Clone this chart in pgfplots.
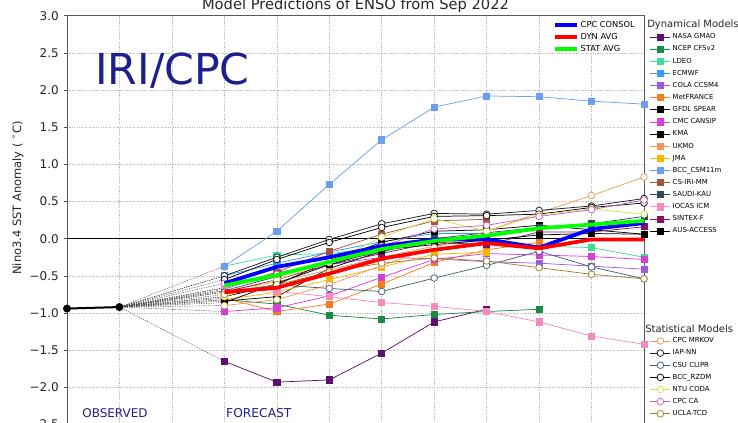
\documentclass[border=0pt]{standalone}
\usepackage{fontspec}
\setmainfont{DejaVu Sans}
\usepackage{pgfplots}
\pgfplotsset{compat=1.18}

\definecolor{cnasa}{HTML}{5C0F6E}
\definecolor{cncep}{HTML}{1B8A45}
\definecolor{cldeo}{HTML}{3DDC97}
\definecolor{cecmwf}{HTML}{2E9FF5}
\definecolor{ccola}{HTML}{9B5DE5}
\definecolor{cmetf}{HTML}{F57C1F}
\definecolor{cgfdl}{HTML}{000000}
\definecolor{ccmc}{HTML}{D53FD5}
\definecolor{ckma}{HTML}{000000}
\definecolor{cukmo}{HTML}{F4935B}
\definecolor{cjma}{HTML}{F5B700}
\definecolor{cbcc}{HTML}{6D9EEB}
\definecolor{ccsiri}{HTML}{A3533E}
\definecolor{csaudi}{HTML}{2F4A5A}
\definecolor{ciocas}{HTML}{F38BBD}
\definecolor{csintex}{HTML}{8C1062}
\definecolor{caus}{HTML}{000000}
\definecolor{cmrkov}{HTML}{EB9B55}
\definecolor{ciap}{HTML}{1A1A1A}
\definecolor{ccsu}{HTML}{43606E}
\definecolor{crzdm}{HTML}{000000}
\definecolor{cntu}{HTML}{CDE34E}
\definecolor{ccpcca}{HTML}{C85FC0}
\definecolor{cucla}{HTML}{A0802A}
\definecolor{navytxt}{HTML}{1E1E8C}
\definecolor{consol}{HTML}{0000FF}
\definecolor{dynavg}{HTML}{FF0000}
\definecolor{statavg}{HTML}{00FF00}

\pgfplotsset{
  base/.style={
    at={(0pt,0pt)}, anchor=south west,
    scale only axis, width=432.75pt, height=306.6pt,
    xmin=0, xmax=11, ymin=-2.5, ymax=3,
    clip mode=individual,
  },
  dyn/.style={line width=0.55pt, mark=square*, mark size=2.3pt, mark options={solid}},
  stat/.style={line width=0.55pt, mark=*, mark size=2.5pt, mark options={solid, fill=white}},
  conn/.style={black!75, line width=0.3pt, dash pattern=on 1pt off 0.8pt, forget plot},
  leg/.style={
    legend cell align=left,
    legend style={draw=none, fill=none, inner sep=0pt, outer sep=0pt,
      font=\fontsize{5.2}{6}\selectfont, row sep=3.3pt,
      nodes={inner xsep=1.5pt, inner ysep=0.4pt, text height=3.9pt, text depth=1.1pt}},
    legend image code/.code={\draw[mark repeat=2,mark phase=2] plot coordinates {(0pt,0pt)(7.5pt,0pt)(15pt,0pt)};},
  },
}

\begin{document}
\begin{tikzpicture}
\useasboundingbox (-50.25pt,1.125pt) rectangle (503.25pt,318.375pt);
\clip (-50.25pt,1.125pt) rectangle (503.25pt,318.375pt);

% ---------------- main axis: dynamical models ----------------
\begin{axis}[base,
  axis line style={black!65, line width=0.6pt},
  xtick={0,1,...,11}, xticklabels={},
  xtick style={/pgfplots/major tick length=0pt},
  ytick={-2.5,-2,-1.5,-1,-0.5,0,0.5,1,1.5,2,2.5,3},
  yticklabels={−2.5,−2.0,−1.5,−1.0,−0.5,0.0,0.5,1.0,1.5,2.0,2.5,3.0},
  ytick pos=left, xtick pos=bottom,
  tick align=outside, major tick length=2.6pt,
  ytick style={black!70, line width=0.5pt},
  yticklabel style={font=\fontsize{9}{10}\selectfont, text=black!85},
  grid=major,
  major grid style={gray!55, line width=0.45pt, dash pattern=on 0.9pt off 0.9pt},
  leg,
  legend style={at={(1.0104,0.9574)}, anchor=north west},
]
% connectors from last observation
\addplot[conn] coordinates {(1,-0.92) (3,-1.65)};
\addplot[conn] coordinates {(1,-0.92) (3,-0.82)};
\addplot[conn] coordinates {(1,-0.92) (3,-0.37)};
\addplot[conn] coordinates {(1,-0.92) (3,-0.50)};
\addplot[conn] coordinates {(1,-0.92) (3,-0.68)};
\addplot[conn] coordinates {(1,-0.92) (3,-0.80)};
\addplot[conn] coordinates {(1,-0.92) (3,-0.78)};
\addplot[conn] coordinates {(1,-0.92) (3,-0.98)};
\addplot[conn] coordinates {(1,-0.92) (3,-0.84)};
\addplot[conn] coordinates {(1,-0.92) (3,-0.70)};
\addplot[conn] coordinates {(1,-0.92) (3,-0.82)};
\addplot[conn] coordinates {(1,-0.92) (3,-0.66)};
\addplot[conn] coordinates {(1,-0.92) (3,-0.70)};
\addplot[conn] coordinates {(1,-0.92) (3,-0.66)};
\addplot[conn] coordinates {(1,-0.92) (3,-0.72)};
\addplot[conn] coordinates {(1,-0.92) (3,-0.86)};
\addplot[conn] coordinates {(1,-0.92) (3,-0.90)};
\addplot[conn] coordinates {(1,-0.92) (3,-0.50)};
\addplot[conn] coordinates {(1,-0.92) (3,-0.72)};
\addplot[conn] coordinates {(1,-0.92) (3,-0.55)};
\addplot[conn] coordinates {(1,-0.92) (3,-0.78)};
\addplot[conn] coordinates {(1,-0.92) (3,-0.60)};
\addplot[conn] coordinates {(1,-0.92) (3,-0.75)};
% zero line and observations
\addplot[black, line width=1.1pt, forget plot] coordinates {(0,0) (11,0)};
\addplot[black, line width=1.5pt, mark=*, mark size=2.2pt, forget plot] coordinates {(0,-0.94) (1,-0.92)};

\addplot[dyn, color=cnasa] coordinates {(3,-1.65)(4,-1.93)(5,-1.90)(6,-1.54)(7,-1.12)(8,-0.95)};
\addlegendentry{NASA GMAO}
\addplot[dyn, color=cncep] coordinates {(3,-0.82)(4,-0.88)(5,-1.03)(6,-1.08)(7,-1.02)(8,-0.98)(9,-0.95)};
\addlegendentry{NCEP CFSv2}
\addplot[dyn, color=cldeo] coordinates {(3,-0.37)(4,-0.22)(5,-0.20)(6,-0.12)(7,-0.05)(8,-0.06)(9,-0.10)(10,-0.12)(11,-0.25)};
\addlegendentry{LDEO}
\addplot[dyn, color=cecmwf] coordinates {(3,-0.50)(4,-0.33)(5,-0.18)(6,-0.04)(7,0.07)(8,0.07)};
\addlegendentry{ECMWF}
\addplot[dyn, color=ccola] coordinates {(3,-0.68)(4,-0.45)(5,-0.35)(6,-0.25)(7,-0.27)(8,-0.31)(9,-0.33)(10,-0.37)(11,-0.41)};
\addlegendentry{COLA CCSM4}
\addplot[dyn, color=cmetf] coordinates {(3,-0.80)(4,-0.98)(5,-0.88)(6,-0.61)(7,-0.32)(8,-0.15)(9,-0.05)};
\addlegendentry{MetFRANCE}
\addplot[dyn, color=cgfdl] coordinates {(3,-0.78)(4,-0.62)(5,-0.30)(6,-0.05)(7,0.10)(8,0.12)(9,0.18)(10,0.12)(11,0.06)};
\addlegendentry{GFDL SPEAR}
\addplot[dyn, color=ccmc] coordinates {(3,-0.98)(4,-0.93)(5,-0.77)(6,-0.52)(7,-0.28)(8,-0.20)(9,-0.22)(10,-0.24)(11,-0.28)};
\addlegendentry{CMC CANSIP}
\addplot[dyn, color=ckma] coordinates {(3,-0.84)(4,-0.78)(5,-0.40)(6,-0.17)(7,0.00)(8,0.02)};
\addlegendentry{KMA}
\addplot[dyn, color=cukmo] coordinates {(3,-0.70)(4,-0.58)(5,-0.42)(6,-0.25)(7,-0.10)(8,0.00)};
\addlegendentry{UKMO}
\addplot[dyn, color=cjma] coordinates {(3,-0.82)(4,-0.72)(5,-0.55)(6,-0.38)(7,-0.21)(8,-0.18)};
\addlegendentry{JMA}
\addplot[dyn, color=cbcc] coordinates {(3,-0.37)(4,0.10)(5,0.73)(6,1.33)(7,1.77)(8,1.92)(9,1.91)(10,1.85)(11,1.81)};
\addlegendentry{BCC\_CSM11m}
\addplot[dyn, color=ccsiri] coordinates {(3,-0.66)(4,-0.45)(5,-0.17)(6,0.06)(7,0.24)(8,0.26)};
\addlegendentry{CS-IRI-MM}
\addplot[dyn, color=csaudi] coordinates {(3,-0.70)(4,-0.51)(5,-0.32)(6,-0.18)(7,0.00)(8,0.08)(9,0.15)(10,0.20)(11,0.30)};
\addlegendentry{SAUDI-KAU}
\addplot[dyn, color=ciocas] coordinates {(3,-0.66)(4,-0.71)(5,-0.78)(6,-0.86)(7,-0.91)(8,-0.98)(9,-1.12)(10,-1.31)(11,-1.42)};
\addlegendentry{IOCAS ICM}
\addplot[dyn, color=csintex] coordinates {(3,-0.72)(4,-0.55)(5,-0.35)(6,-0.20)(7,-0.05)(8,-0.08)(9,0.09)(10,0.09)(11,0.16)};
\addlegendentry{SINTEX-F}
\addplot[dyn, color=caus] coordinates {(3,-0.86)(4,-0.60)(5,-0.35)(6,-0.15)(7,-0.08)(8,-0.02)(9,0.05)(10,0.07)(11,0.06)};
\addlegendentry{AUS-ACCESS}

% text
\node[anchor=base, font=\fontsize{11}{12}\selectfont, text=black!85] at (rel axis cs:0.5,1.0152) {Model Predictions of ENSO from Sep 2022};
\node[anchor=base west, font=\fontsize{32}{34}\selectfont, text=navytxt, inner sep=0pt] at (axis cs:0.534,2.08) {IRI/CPC};
\node[anchor=base, font=\fontsize{9}{10}\selectfont, text=navytxt, inner sep=0pt] at (axis cs:0.915,-2.41) {OBSERVED};
\node[anchor=base west, font=\fontsize{9.2}{10}\selectfont, text=navytxt, inner sep=0pt] at (axis cs:3.03,-2.41) {FORECAST};
\node[rotate=90, font=\fontsize{8.6}{10}\selectfont, text=black!85] at (rel axis cs:-0.085,0.554) {Nino3.4 SST Anomaly ( \textsuperscript{∘}C)};
\node[anchor=west, font=\fontsize{7.5}{9}\selectfont, text=black!85, inner sep=0pt] at (rel axis cs:1.0052,0.9772) {Dynamical Models};
\node[anchor=west, font=\fontsize{7.5}{9}\selectfont, text=black!85, inner sep=0pt] at (rel axis cs:1.0017,0.2336) {Statistical Models};
\end{axis}

% ---------------- statistical models ----------------
\begin{axis}[base, hide axis, leg,
  legend style={at={(1.0104,0.2138)}, anchor=north west},
]
\addplot[stat, color=cmrkov] coordinates {(3,-0.90)(4,-0.82)(5,-0.62)(6,-0.36)(7,-0.12)(8,0.10)(9,0.35)(10,0.58)(11,0.83)};
\addlegendentry{CPC MRKOV}
\addplot[stat, color=ciap] coordinates {(3,-0.50)(4,-0.25)(5,-0.01)(6,0.20)(7,0.34)(8,0.33)(9,0.38)(10,0.44)(11,0.54)};
\addlegendentry{IAP-NN}
\addplot[stat, color=ccsu] coordinates {(3,-0.72)(4,-0.62)(5,-0.67)(6,-0.71)(7,-0.53)(8,-0.36)(9,-0.17)(10,-0.38)(11,-0.54)};
\addlegendentry{CSU CLIPR}
\addplot[stat, color=crzdm] coordinates {(3,-0.55)(4,-0.28)(5,-0.05)(6,0.15)(7,0.30)(8,0.31)(9,0.33)(10,0.42)(11,0.48)};
\addlegendentry{BCC\_RZDM}
\addplot[stat, color=cntu] coordinates {(3,-0.78)(4,-0.55)(5,-0.32)(6,0.02)(7,0.27)(8,0.10)(9,0.32)(10,0.40)(11,0.33)};
\addlegendentry{NTU CODA}
\addplot[stat, color=ccpcca] coordinates {(3,-0.60)(4,-0.48)(5,-0.30)(6,-0.10)(7,0.13)(8,0.18)(9,0.30)(10,0.39)(11,0.52)};
\addlegendentry{CPC CA}
\addplot[stat, color=cucla] coordinates {(3,-0.75)(4,-0.62)(5,-0.45)(6,-0.33)(7,-0.26)(8,-0.30)(9,-0.39)(10,-0.48)(11,-0.54)};
\addlegendentry{UCLA-TCD}
\end{axis}

% ---------------- averages ----------------
\begin{axis}[base, hide axis,
  legend cell align=left,
  legend style={draw=none, fill=none, inner sep=0pt, outer sep=0pt,
    at={(0.8423,0.9883)}, anchor=north west,
    font=\fontsize{6.2}{7}\selectfont, row sep=2.3pt,
    nodes={inner xsep=1.5pt, inner ysep=0.4pt, text height=4.6pt, text depth=1.3pt}},
  legend image code/.code={\draw (0pt,0pt) -- (16.5pt,0pt);},
]
\addplot[consol, line width=2.8pt] coordinates {(3,-0.60)(4,-0.38)(5,-0.25)(6,-0.10)(7,-0.01)(8,-0.01)(9,-0.12)(10,0.13)(11,0.21)};
\addlegendentry{CPC CONSOL}
\addplot[dynavg, line width=2.8pt] coordinates {(3,-0.72)(4,-0.66)(5,-0.47)(6,-0.27)(7,-0.15)(8,-0.06)(9,-0.13)(10,-0.01)(11,-0.01)};
\addlegendentry{DYN AVG}
\addplot[statavg, line width=2.8pt] coordinates {(3,-0.63)(4,-0.49)(5,-0.31)(6,-0.14)(7,-0.03)(8,0.04)(9,0.14)(10,0.19)(11,0.24)};
\addlegendentry{STAT AVG}
\end{axis}
\end{tikzpicture}
\end{document}
